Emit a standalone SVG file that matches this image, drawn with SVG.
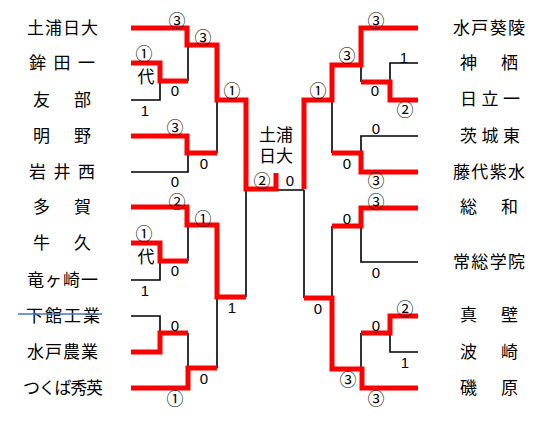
<svg xmlns="http://www.w3.org/2000/svg" width="550" height="427" viewBox="0 0 550 427">
<style>
.nm{font-family:"Noto Sans CJK JP","Noto Sans CJK SC",sans-serif;font-size:17px;fill:#000;}
.num{font-family:"Liberation Sans",Arial,sans-serif;font-size:15px;fill:#000;text-anchor:middle;dominant-baseline:central;}
.cir{font-family:"Noto Sans CJK JP",sans-serif;font-size:17px;fill:#000;text-anchor:middle;dominant-baseline:central;}
.dai{font-family:"Noto Sans CJK JP",sans-serif;font-size:17px;fill:#000;text-anchor:middle;dominant-baseline:central;}
.r{fill:none;stroke:#FF0000;stroke-width:5;stroke-linejoin:miter;stroke-linecap:butt;}
.b{fill:none;stroke:#000;stroke-width:1.6;}
</style>
<rect width="550" height="427" fill="#fff"/>
<g id="connectors">
<path class="b" d="M131,100H160V81M188,45V81M217,100V153M131,172H188V153M188,225V261M131,280H160V261M131,316H160V333M188,333V368M217,297V368M246,190V297M276,190H304"/>
<path class="b" d="M418,63H390V82M361,65V82M418,136H361V153M332,100V153M418,262H361V226M332,226V298M418,352H390V333M361,333V369M304,190V298"/>
<path class="r" d="M131,28H187V45H217V100H246V189H276V173"/>
<path class="r" d="M131,63H160V81H188"/>
<path class="r" d="M131,136H187V153H217"/>
<path class="r" d="M131,207H187V225H217V297H246"/>
<path class="r" d="M131,243H160V261H188"/>
<path class="r" d="M131,352H160V333H188"/>
<path class="r" d="M131,388H188V368H217"/>
<path class="r" d="M418,28H361V65H332V100H304V189"/>
<path class="r" d="M418,100H390V82H361"/>
<path class="r" d="M418,172H361V153H332"/>
<path class="r" d="M418,208H361V226H332"/>
<path class="r" d="M418,316H390V333H361"/>
<path class="r" d="M418,388H362V369H332V298H304"/>
</g>
<g id="team-tsuchiura-nichidai"><text class="nm" x="27" y="34" textLength="71" lengthAdjust="spacing">土浦日大</text></g>
<g id="team-hokota1"><text class="nm" x="29" y="69" textLength="66" lengthAdjust="spacing">鉾田一</text></g>
<g id="team-tomobe"><text class="nm" x="33" y="106" textLength="58" lengthAdjust="spacing">友部</text></g>
<g id="team-meino"><text class="nm" x="33" y="142" textLength="58" lengthAdjust="spacing">明野</text></g>
<g id="team-iwainishi"><text class="nm" x="29" y="178" textLength="66" lengthAdjust="spacing">岩井西</text></g>
<g id="team-taga"><text class="nm" x="33" y="213" textLength="58" lengthAdjust="spacing">多賀</text></g>
<g id="team-ushiku"><text class="nm" x="33" y="249" textLength="58" lengthAdjust="spacing">牛久</text></g>
<g id="team-ryugasaki1"><text class="nm" x="27" y="286" textLength="71" lengthAdjust="spacing">竜ヶ崎一</text></g>
<g id="team-shimodate-kogyo"><text class="nm" x="26" y="322" textLength="74" lengthAdjust="spacing">下館工業</text><line x1="18" y1="314" x2="102" y2="314" stroke="#4472C4" stroke-width="1.5"/></g>
<g id="team-mito-nogyo"><text class="nm" x="27" y="358" textLength="71" lengthAdjust="spacing">水戸農業</text></g>
<g id="team-tsukuba-shuei"><text class="nm" x="23" y="394" textLength="80" lengthAdjust="spacing">つくば秀英</text></g>
<g id="team-mito-ryoryo"><text class="nm" x="453" y="34" textLength="72" lengthAdjust="spacing">水戸葵陵</text></g>
<g id="team-kamisu"><text class="nm" x="460" y="69" textLength="58" lengthAdjust="spacing">神栖</text></g>
<g id="team-hitachi1"><text class="nm" x="460" y="105" textLength="60" lengthAdjust="spacing">日立一</text></g>
<g id="team-ibarakihigashi"><text class="nm" x="460" y="142" textLength="60" lengthAdjust="spacing">茨城東</text></g>
<g id="team-fujishiro-shisui"><text class="nm" x="453" y="178" textLength="72" lengthAdjust="spacing">藤代紫水</text></g>
<g id="team-sowa"><text class="nm" x="460" y="213" textLength="58" lengthAdjust="spacing">総和</text></g>
<g id="team-joso-gakuin"><text class="nm" x="453" y="268" textLength="72" lengthAdjust="spacing">常総学院</text></g>
<g id="team-makabe"><text class="nm" x="460" y="321" textLength="58" lengthAdjust="spacing">真壁</text></g>
<g id="team-hasaki"><text class="nm" x="460" y="358" textLength="58" lengthAdjust="spacing">波崎</text></g>
<g id="team-isohara"><text class="nm" x="460" y="394" textLength="58" lengthAdjust="spacing">磯原</text></g>
<g id="champion"><text class="dai" x="276" y="133">土浦</text><text class="dai" x="276" y="154">日大</text></g>
<g id="scores">
<text class="cir" x="177" y="19">③</text>
<text class="cir" x="203" y="36">③</text>
<text class="cir" x="144" y="52">①</text>
<text class="dai" x="146" y="75">代</text>
<text class="num" x="175" y="90">0</text>
<text class="num" x="145" y="110">1</text>
<text class="cir" x="232" y="89">①</text>
<text class="cir" x="175" y="126">③</text>
<text class="num" x="204" y="163">0</text>
<text class="num" x="175" y="181">0</text>
<text class="cir" x="177" y="200">②</text>
<text class="cir" x="203" y="217">①</text>
<text class="cir" x="144" y="232">①</text>
<text class="dai" x="146" y="255">代</text>
<text class="num" x="175" y="270">0</text>
<text class="num" x="145" y="290">1</text>
<text class="num" x="232" y="307">1</text>
<text class="num" x="175" y="325">0</text>
<text class="num" x="204" y="378">0</text>
<text class="cir" x="175" y="397">①</text>
<text class="cir" x="262" y="179">②</text>
<text class="num" x="290" y="180">0</text>
<text class="cir" x="376" y="19">③</text>
<text class="cir" x="347" y="54">③</text>
<text class="cir" x="318" y="89">①</text>
<text class="num" x="375" y="90">0</text>
<text class="num" x="404" y="57">1</text>
<text class="cir" x="405" y="108">②</text>
<text class="num" x="376" y="128">0</text>
<text class="num" x="347" y="163">0</text>
<text class="cir" x="376" y="179">③</text>
<text class="cir" x="376" y="200">③</text>
<text class="num" x="347" y="218">0</text>
<text class="num" x="376" y="272">0</text>
<text class="num" x="318" y="308">0</text>
<text class="cir" x="405" y="307">②</text>
<text class="num" x="376" y="325">0</text>
<text class="num" x="405" y="362">1</text>
<text class="cir" x="348" y="378">③</text>
<text class="cir" x="376" y="397">③</text>
</g>
</svg>
